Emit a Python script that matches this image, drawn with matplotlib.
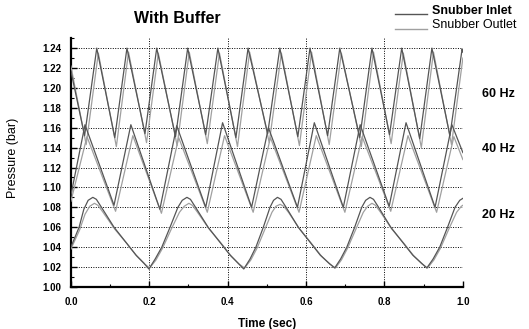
import matplotlib
matplotlib.use("Agg")
import matplotlib.pyplot as plt
from matplotlib.ticker import MultipleLocator, FormatStrFormatter
from matplotlib.lines import Line2D

plt.rcParams['font.family'] = ['Liberation Sans', 'DejaVu Sans']

# ---- data (time in s, pressure in bar) ----
t60_in = [0.000, 0.035, 0.066, 0.112, 0.143, 0.189, 0.219, 0.267, 0.298, 0.344, 0.375,
          0.421, 0.452, 0.502, 0.533, 0.579, 0.610, 0.655, 0.686, 0.737, 0.768, 0.813,
          0.844, 0.890, 0.921, 0.967, 0.998, 1.000]
p60_in = [1.217, 1.152, 1.240, 1.150, 1.240, 1.154, 1.240, 1.151, 1.240, 1.153, 1.240,
          1.150, 1.240, 1.154, 1.240, 1.151, 1.240, 1.152, 1.240, 1.150, 1.240, 1.153,
          1.240, 1.149, 1.240, 1.152, 1.239, 1.236]

t60_out = [0.000, 0.039, 0.070, 0.116, 0.147, 0.193, 0.223, 0.271, 0.302, 0.348, 0.379,
           0.425, 0.456, 0.506, 0.537, 0.583, 0.614, 0.659, 0.690, 0.741, 0.772, 0.817,
           0.848, 0.894, 0.925, 0.971, 1.000]
p60_out = [1.222, 1.143, 1.235, 1.141, 1.236, 1.145, 1.235, 1.142, 1.236, 1.144, 1.235,
           1.141, 1.236, 1.145, 1.235, 1.142, 1.236, 1.143, 1.235, 1.141, 1.236, 1.144,
           1.235, 1.140, 1.236, 1.143, 1.230]

t40_in = [0.000, 0.036, 0.110, 0.153, 0.227, 0.270, 0.344, 0.387, 0.461, 0.504, 0.578,
          0.621, 0.695, 0.738, 0.812, 0.855, 0.929, 0.972, 1.000]
p40_in = [1.092, 1.163, 1.082, 1.163, 1.078, 1.162, 1.080, 1.165, 1.080, 1.160, 1.080,
          1.165, 1.080, 1.163, 1.081, 1.165, 1.080, 1.163, 1.135]

t40_out = [0.000, 0.041, 0.114, 0.158, 0.231, 0.275, 0.348, 0.392, 0.465, 0.509, 0.582,
           0.626, 0.699, 0.743, 0.816, 0.860, 0.933, 0.977, 1.000]
p40_out = [1.086, 1.151, 1.076, 1.152, 1.074, 1.150, 1.075, 1.152, 1.075, 1.150, 1.075,
           1.152, 1.075, 1.151, 1.076, 1.152, 1.075, 1.151, 1.128]

t20_in = [0.000, 0.021, 0.033, 0.044, 0.056,
          0.065, 0.078, 0.110, 0.140, 0.166, 0.186, 0.199,
          0.215, 0.232, 0.253, 0.273, 0.284, 0.296,
          0.305, 0.318, 0.350, 0.380, 0.406, 0.426, 0.441,
          0.457, 0.472, 0.491, 0.508, 0.517, 0.527,
          0.536, 0.549, 0.580, 0.610, 0.636, 0.658, 0.673,
          0.688, 0.704, 0.724, 0.742, 0.752, 0.763,
          0.772, 0.785, 0.816, 0.846, 0.872, 0.894, 0.908,
          0.924, 0.941, 0.961, 0.980, 0.992, 1.000]
p20_in = [1.040, 1.060, 1.078, 1.087, 1.090,
          1.088, 1.080, 1.060, 1.045, 1.032, 1.024, 1.018,
          1.028, 1.040, 1.060, 1.080, 1.087, 1.090,
          1.088, 1.080, 1.060, 1.045, 1.032, 1.024, 1.018,
          1.028, 1.040, 1.060, 1.080, 1.087, 1.090,
          1.088, 1.080, 1.060, 1.045, 1.032, 1.024, 1.019,
          1.028, 1.040, 1.060, 1.080, 1.087, 1.090,
          1.088, 1.080, 1.060, 1.045, 1.032, 1.024, 1.019,
          1.028, 1.040, 1.060, 1.080, 1.087, 1.089]

t20_out = [0.000, 0.022, 0.036, 0.048, 0.060,
           0.069, 0.082, 0.112, 0.142, 0.168, 0.188, 0.201,
           0.217, 0.234, 0.256, 0.277, 0.289, 0.301,
           0.310, 0.323, 0.353, 0.383, 0.409, 0.429, 0.443,
           0.459, 0.475, 0.495, 0.513, 0.523, 0.534,
           0.543, 0.555, 0.584, 0.613, 0.639, 0.660, 0.675,
           0.690, 0.706, 0.727, 0.746, 0.757, 0.768,
           0.777, 0.790, 0.819, 0.849, 0.875, 0.896, 0.910,
           0.926, 0.943, 0.964, 0.984, 0.996, 1.000]
p20_out = [1.038, 1.057, 1.073, 1.081, 1.084,
           1.082, 1.075, 1.058, 1.044, 1.031, 1.023, 1.019,
           1.027, 1.039, 1.058, 1.075, 1.081, 1.084,
           1.082, 1.075, 1.058, 1.044, 1.031, 1.023, 1.019,
           1.027, 1.039, 1.058, 1.075, 1.081, 1.083,
           1.081, 1.075, 1.058, 1.044, 1.031, 1.023, 1.019,
           1.027, 1.039, 1.058, 1.075, 1.081, 1.084,
           1.082, 1.075, 1.058, 1.044, 1.031, 1.023, 1.019,
           1.027, 1.039, 1.058, 1.075, 1.081, 1.082]

freq_labels = ["60 Hz", "40 Hz", "20 Hz"]
freq_label_y = [1.194, 1.139, 1.072]
series_names = ["Snubber Inlet", "Snubber Outlet"]

# ---- figure ----
W, H = 529, 329
fig = plt.figure(figsize=(W / 100, H / 100), dpi=100)
ax = fig.add_axes([0.134, 0.128, 0.741, 0.756])

c_in = '#555555'
c_out = '#a0a0a0'
lw = 0.9
for t, p in [(t60_out, p60_out), (t40_out, p40_out), (t20_out, p20_out)]:
    ax.plot(t, p, color=c_out, lw=lw, zorder=3)
for t, p in [(t60_in, p60_in), (t40_in, p40_in), (t20_in, p20_in)]:
    ax.plot(t, p, color=c_in, lw=lw, zorder=4)

ax.set_xlim(0, 1.0)
ax.set_ylim(1.00, 1.25)
ax.xaxis.set_major_locator(MultipleLocator(0.2))
ax.xaxis.set_minor_locator(MultipleLocator(0.1))
ax.yaxis.set_minor_locator(MultipleLocator(0.01))
ax.xaxis.set_major_formatter(FormatStrFormatter('%.1f'))
ax.yaxis.set_major_formatter(FormatStrFormatter('%.2f'))
ax.set_yticks([1.00 + 0.02 * i for i in range(13)])

ax.grid(True, which='major', color='black', linestyle=(0, (1, 1.5)), linewidth=0.7)
ax.set_axisbelow(True)

for s in ['top', 'right']:
    ax.spines[s].set_visible(False)
for s in ['left', 'bottom']:
    ax.spines[s].set_linewidth(1.6)

ax.tick_params(which='major', direction='in', length=4, width=1.0, labelsize=7, pad=7)
ax.tick_params(which='minor', direction='in', length=2, width=0.8)
for lab in ax.get_xticklabels() + ax.get_yticklabels():
    lab.set_fontweight('bold')

ax.set_xlabel('Time (sec)', fontsize=8.5, fontweight='bold', labelpad=8)
fig.text(0.025, 0.52, 'Pressure (bar)', rotation=90, fontsize=9, ha='center', va='center')

fig.text(0.336, 0.945, 'With Buffer', fontsize=11.5, fontweight='bold', ha='center', va='center')

# frequency labels to the right of the axes
for lab, yv in zip(freq_labels, freq_label_y):
    ax.text(1.05, yv, lab, fontsize=9, fontweight='bold', ha='left', va='center',
            transform=ax.get_yaxis_transform())

# legend (line drawn at the text baseline, as in the original)
leg_x0, leg_x1, leg_tx = 395 / W, 427 / W, 432 / W
leg_line_y = [1 - 14 / H, 1 - 29 / H]
leg_text_y = [1 - 11 / H, 1 - 25 / H]
weights = ['bold', 'normal']
for name, col, ly, ty, wgt in zip(series_names, [c_in, c_out], leg_line_y, leg_text_y, weights):
    fig.add_artist(Line2D([leg_x0, leg_x1], [ly, ly], color=col, lw=1.0,
                          transform=fig.transFigure))
    fig.text(leg_tx, ty, name, fontsize=9, fontweight=wgt, ha='left', va='center')

fig.savefig('out.png', dpi=100)
